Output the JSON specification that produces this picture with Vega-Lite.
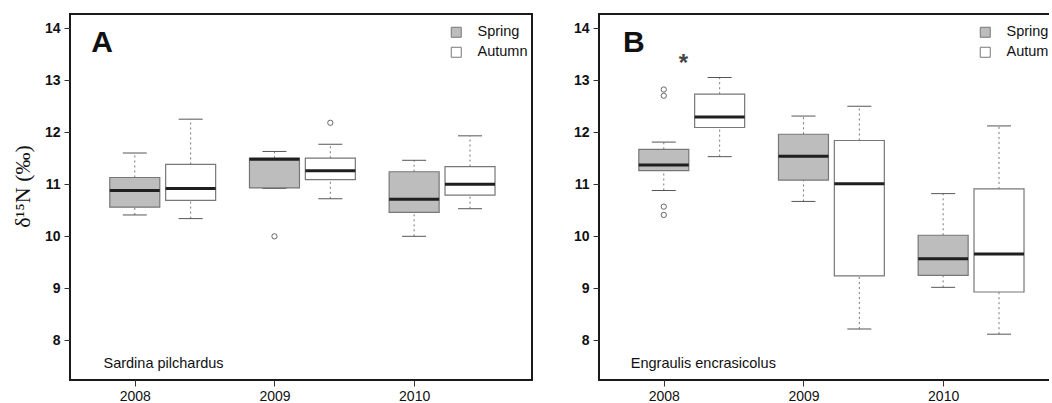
{
  "$schema": "https://vega.github.io/schema/vega-lite/v6.json",
  "background": "white",
  "padding": {"left": 10, "top": 13, "right": -13, "bottom": 0},
  "spacing": 39,
  "config": {
    "font": "Liberation Sans",
    "view": {"stroke": "#1a1a1a", "strokeWidth": 2},
    "axis": {"domain": false, "grid": false, "tickColor": "#333", "tickSize": 6, "tickWidth": 1, "labelColor": "#111", "labelFont": "Liberation Sans", "labelFontSize": 14, "labelPadding": 3},
    "axisY": {"labelFontWeight": "bold", "labelPadding": 4, "format": "d", "titleFont": "Liberation Serif", "titleFontSize": 22, "titleFontWeight": "normal", "titleColor": "#111", "titlePadding": 10},
    "tick": {"opacity": 1},
    "legend": {"orient": "top-right", "offset": 4, "padding": 0, "title": " ", "titleFontSize": 4, "titlePadding": 3, "symbolType": "square", "symbolSize": 100, "symbolStrokeColor": "#777", "symbolStrokeWidth": 1, "labelFontSize": 14.5, "labelColor": "#111", "labelOffset": 14, "rowPadding": 4}
  },
  "datasets": {
    "boxes": [
      {"panel": "A", "year": "2008", "season": "Spring", "pos": 1, "lower": 10.41, "q1": 10.56, "median": 10.88, "q3": 11.13, "upper": 11.6},
      {"panel": "A", "year": "2008", "season": "Autumn", "pos": 2, "lower": 10.34, "q1": 10.69, "median": 10.92, "q3": 11.38, "upper": 12.25},
      {"panel": "A", "year": "2009", "season": "Spring", "pos": 3.5, "lower": 10.92, "q1": 10.93, "median": 11.48, "q3": 11.5, "upper": 11.63},
      {"panel": "A", "year": "2009", "season": "Autumn", "pos": 4.5, "lower": 10.72, "q1": 11.09, "median": 11.26, "q3": 11.5, "upper": 11.77},
      {"panel": "A", "year": "2010", "season": "Spring", "pos": 6, "lower": 10.0, "q1": 10.46, "median": 10.71, "q3": 11.24, "upper": 11.46},
      {"panel": "A", "year": "2010", "season": "Autumn", "pos": 7, "lower": 10.53, "q1": 10.79, "median": 11.0, "q3": 11.34, "upper": 11.93},
      {"panel": "B", "year": "2008", "season": "Spring", "pos": 1, "lower": 10.88, "q1": 11.26, "median": 11.37, "q3": 11.67, "upper": 11.81},
      {"panel": "B", "year": "2008", "season": "Autumn", "pos": 2, "lower": 11.53, "q1": 12.09, "median": 12.29, "q3": 12.73, "upper": 13.05},
      {"panel": "B", "year": "2009", "season": "Spring", "pos": 3.5, "lower": 10.67, "q1": 11.08, "median": 11.54, "q3": 11.96, "upper": 12.31},
      {"panel": "B", "year": "2009", "season": "Autumn", "pos": 4.5, "lower": 8.22, "q1": 9.24, "median": 11.01, "q3": 11.84, "upper": 12.5},
      {"panel": "B", "year": "2010", "season": "Spring", "pos": 6, "lower": 9.02, "q1": 9.25, "median": 9.57, "q3": 10.02, "upper": 10.82},
      {"panel": "B", "year": "2010", "season": "Autumn", "pos": 7, "lower": 8.12, "q1": 8.93, "median": 9.66, "q3": 10.91, "upper": 12.12}
    ],
    "outliers": [
      {"panel": "A", "pos": 3.5, "value": 10.0},
      {"panel": "A", "pos": 4.5, "value": 12.18},
      {"panel": "B", "pos": 1, "value": 12.82},
      {"panel": "B", "pos": 1, "value": 12.7},
      {"panel": "B", "pos": 1, "value": 10.57},
      {"panel": "B", "pos": 1, "value": 10.41}
    ],
    "labels": [
      {"panel": "A", "kind": "letter", "text": "A", "pos": 0.22, "value": 13.54},
      {"panel": "A", "kind": "species", "text": "Sardina pilchardus", "pos": 0.44, "value": 7.55},
      {"panel": "B", "kind": "letter", "text": "B", "pos": 0.27, "value": 13.54},
      {"panel": "B", "kind": "species", "text": "Engraulis encrasicolus", "pos": 0.41, "value": 7.55},
      {"panel": "B", "kind": "star", "text": "*", "pos": 1.35, "value": 13.31}
    ]
  },
  "resolve": {"legend": {"fill": "independent"}},
  "hconcat": [
    {
      "width": 462,
      "height": 366,
      "data": {"name": "boxes"},
      "transform": [{"filter": "datum.panel == 'A'"}],
      "encoding": {
        "x": {"field": "pos", "type": "quantitative", "title": null, "scale": {"domain": [-0.07, 8.02], "nice": false, "zero": false},
              "axis": {"values": [1, 3.5, 6], "labelExpr": "datum.value == 1 ? '2008' : datum.value == 3.5 ? '2009' : '2010'"}}
      },
      "layer": [
        {"mark": {"type": "rule", "color": "#777", "strokeWidth": 1, "strokeDash": [2, 3]},
         "encoding": {"y": {"field": "lower", "type": "quantitative", "title": "δ¹⁵N (‰)", "scale": {"domain": [7.24, 14.27], "nice": false, "zero": false}, "axis": {"values": [8, 9, 10, 11, 12, 13, 14], "titleY": 172}}, "y2": {"field": "q1"}}},
        {"mark": {"type": "rule", "color": "#777", "strokeWidth": 1, "strokeDash": [2, 3]},
         "encoding": {"y": {"field": "q3", "type": "quantitative", "title": "δ¹⁵N (‰)", "scale": {"domain": [7.24, 14.27], "nice": false, "zero": false}}, "y2": {"field": "upper"}}},
        {"mark": {"type": "tick", "orient": "horizontal", "size": 24, "thickness": 1, "color": "#555"},
         "encoding": {"y": {"field": "lower", "type": "quantitative", "title": "δ¹⁵N (‰)", "scale": {"domain": [7.24, 14.27], "nice": false, "zero": false}}}},
        {"mark": {"type": "tick", "orient": "horizontal", "size": 24, "thickness": 1, "color": "#555"},
         "encoding": {"y": {"field": "upper", "type": "quantitative", "title": "δ¹⁵N (‰)", "scale": {"domain": [7.24, 14.27], "nice": false, "zero": false}}}},
        {"mark": {"type": "bar", "size": 50, "stroke": "#777", "strokeWidth": 1.2},
         "encoding": {"y": {"field": "q1", "type": "quantitative", "title": "δ¹⁵N (‰)", "scale": {"domain": [7.24, 14.27], "nice": false, "zero": false}}, "y2": {"field": "q3"},
                      "fill": {"field": "season", "type": "nominal", "scale": {"domain": ["Spring", "Autumn"], "range": ["#bdbdbd", "#ffffff"]}, "legend": {"title": " "}}}},
        {"mark": {"type": "tick", "orient": "horizontal", "size": 50, "thickness": 3, "color": "#1f1f1f", "opacity": 1},
         "encoding": {"y": {"field": "median", "type": "quantitative", "title": "δ¹⁵N (‰)", "scale": {"domain": [7.24, 14.27], "nice": false, "zero": false}}}},
        {"data": {"name": "outliers"}, "transform": [{"filter": "datum.panel == 'A'"}],
         "mark": {"type": "point", "shape": "circle", "filled": false, "size": 28, "stroke": "#666", "strokeWidth": 1, "opacity": 1},
         "encoding": {"y": {"field": "value", "type": "quantitative", "title": "δ¹⁵N (‰)", "scale": {"domain": [7.24, 14.27], "nice": false, "zero": false}}}},
        {"data": {"name": "labels"}, "transform": [{"filter": "datum.panel == 'A' && datum.kind == 'letter'"}],
         "mark": {"type": "text", "align": "left", "baseline": "alphabetic", "fontSize": 30, "fontWeight": "bold", "color": "#111"},
         "encoding": {"y": {"field": "value", "type": "quantitative", "title": "δ¹⁵N (‰)", "scale": {"domain": [7.24, 14.27], "nice": false, "zero": false}}, "text": {"field": "text"}}},
        {"data": {"name": "labels"}, "transform": [{"filter": "datum.panel == 'A' && datum.kind == 'species'"}],
         "mark": {"type": "text", "align": "left", "baseline": "middle", "fontSize": 14.5, "color": "#111"},
         "encoding": {"y": {"field": "value", "type": "quantitative", "title": "δ¹⁵N (‰)", "scale": {"domain": [7.24, 14.27], "nice": false, "zero": false}}, "text": {"field": "text"}}}
      ]
    },
    {
      "width": 462,
      "height": 366,
      "data": {"name": "boxes"},
      "transform": [{"filter": "datum.panel == 'B'"}],
      "encoding": {
        "x": {"field": "pos", "type": "quantitative", "title": null, "scale": {"domain": [-0.07, 8.02], "nice": false, "zero": false},
              "axis": {"values": [1, 3.5, 6], "labelExpr": "datum.value == 1 ? '2008' : datum.value == 3.5 ? '2009' : '2010'"}}
      },
      "layer": [
        {"mark": {"type": "rule", "color": "#777", "strokeWidth": 1, "strokeDash": [2, 3]},
         "encoding": {"y": {"field": "lower", "type": "quantitative", "title": null, "scale": {"domain": [7.24, 14.27], "nice": false, "zero": false}, "axis": {"values": [8, 9, 10, 11, 12, 13, 14]}}, "y2": {"field": "q1"}}},
        {"mark": {"type": "rule", "color": "#777", "strokeWidth": 1, "strokeDash": [2, 3]},
         "encoding": {"y": {"field": "q3", "type": "quantitative", "title": null, "scale": {"domain": [7.24, 14.27], "nice": false, "zero": false}}, "y2": {"field": "upper"}}},
        {"mark": {"type": "tick", "orient": "horizontal", "size": 24, "thickness": 1, "color": "#555"},
         "encoding": {"y": {"field": "lower", "type": "quantitative", "title": null, "scale": {"domain": [7.24, 14.27], "nice": false, "zero": false}}}},
        {"mark": {"type": "tick", "orient": "horizontal", "size": 24, "thickness": 1, "color": "#555"},
         "encoding": {"y": {"field": "upper", "type": "quantitative", "title": null, "scale": {"domain": [7.24, 14.27], "nice": false, "zero": false}}}},
        {"mark": {"type": "bar", "size": 50, "stroke": "#777", "strokeWidth": 1.2},
         "encoding": {"y": {"field": "q1", "type": "quantitative", "title": null, "scale": {"domain": [7.24, 14.27], "nice": false, "zero": false}}, "y2": {"field": "q3"},
                      "fill": {"field": "season", "type": "nominal", "scale": {"domain": ["Spring", "Autumn"], "range": ["#bdbdbd", "#ffffff"]}, "legend": {"title": " "}}}},
        {"mark": {"type": "tick", "orient": "horizontal", "size": 50, "thickness": 3, "color": "#1f1f1f", "opacity": 1},
         "encoding": {"y": {"field": "median", "type": "quantitative", "title": null, "scale": {"domain": [7.24, 14.27], "nice": false, "zero": false}}}},
        {"data": {"name": "outliers"}, "transform": [{"filter": "datum.panel == 'B'"}],
         "mark": {"type": "point", "shape": "circle", "filled": false, "size": 28, "stroke": "#666", "strokeWidth": 1, "opacity": 1},
         "encoding": {"y": {"field": "value", "type": "quantitative", "title": null, "scale": {"domain": [7.24, 14.27], "nice": false, "zero": false}}}},
        {"data": {"name": "labels"}, "transform": [{"filter": "datum.panel == 'B' && datum.kind == 'letter'"}],
         "mark": {"type": "text", "align": "left", "baseline": "alphabetic", "fontSize": 30, "fontWeight": "bold", "color": "#111"},
         "encoding": {"y": {"field": "value", "type": "quantitative", "title": null, "scale": {"domain": [7.24, 14.27], "nice": false, "zero": false}}, "text": {"field": "text"}}},
        {"data": {"name": "labels"}, "transform": [{"filter": "datum.panel == 'B' && datum.kind == 'species'"}],
         "mark": {"type": "text", "align": "left", "baseline": "middle", "fontSize": 14.5, "color": "#111"},
         "encoding": {"y": {"field": "value", "type": "quantitative", "title": null, "scale": {"domain": [7.24, 14.27], "nice": false, "zero": false}}, "text": {"field": "text"}}},
        {"data": {"name": "labels"}, "transform": [{"filter": "datum.panel == 'B' && datum.kind == 'star'"}],
         "mark": {"type": "text", "align": "center", "baseline": "middle", "fontSize": 24, "fontWeight": "bold", "color": "#444"},
         "encoding": {"y": {"field": "value", "type": "quantitative", "title": null, "scale": {"domain": [7.24, 14.27], "nice": false, "zero": false}}, "text": {"field": "text"}}}
      ]
    }
  ]
}
